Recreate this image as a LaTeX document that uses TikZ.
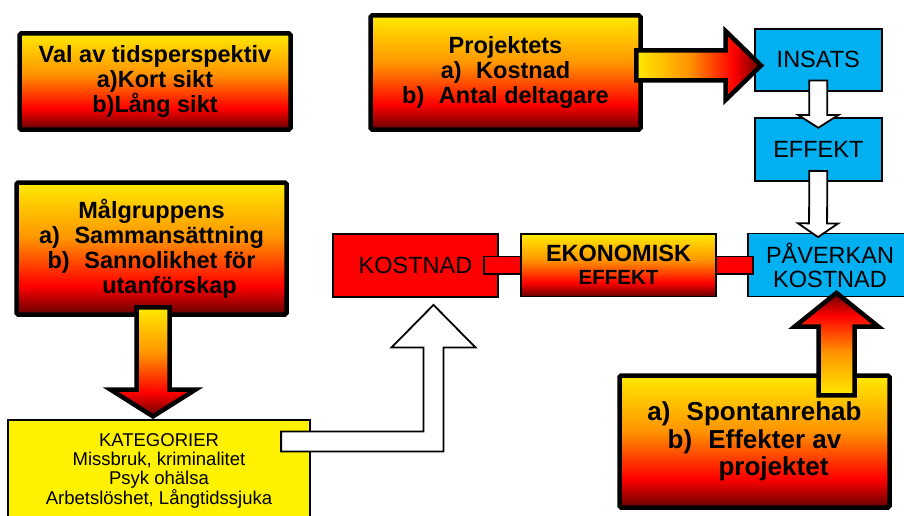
\documentclass[tikz,border=0pt]{standalone}
\usepackage{fontspec}
\setmainfont{Liberation Sans}
\usepackage{tikz}
\usetikzlibrary{calc}

\definecolor{fireyellow}{HTML}{FFEA00}
\definecolor{fireorange}{HTML}{FF9400}
\definecolor{firedark}{HTML}{660000}
\definecolor{skyblue}{HTML}{00B0F0}
\pgfdeclareverticalshading{fire}{100bp}{color(0bp)=(firedark); color(25bp)=(firedark);
  color(36bp)=(red); color(54bp)=(fireorange); color(75bp)=(fireyellow); color(100bp)=(fireyellow)}

% block arrow: style, from, to, half shaft, half head, head length
\newcommand{\blockarrow}[6]{%
  \coordinate (ba-base) at ($(#3)!#6!(#2)$);
  \path[#1] ($(#2)!#4!90:(#3)$) -- ($(ba-base)!#4!90:(#3)$)
    -- ($(ba-base)!#5!90:(#3)$) -- (#3)
    -- ($(ba-base)!#5!-90:(#3)$) -- ($(ba-base)!#4!-90:(#3)$)
    -- ($(#2)!#4!-90:(#3)$) -- cycle;
}
\newcommand{\gap}{\hspace{0.62em}}

\begin{document}
\begin{tikzpicture}[x=1pt, y=-1pt,
    firebox/.style={draw=black, line width=4.5pt, rounded corners=1.5pt, shade, shading=fire,
      inner sep=0pt, align=center, font=\fontsize{23.5}{25}\selectfont\bfseries},
    firethin/.style={firebox, line width=1.8pt, rounded corners=0pt},
    bluebox/.style={draw=black, line width=1.8pt, fill=skyblue, inner sep=0pt, align=center,
      font=\fontsize{23.5}{24}\selectfont},
    redbox/.style={bluebox, fill=red},
    yellowbox/.style={bluebox, fill=yellow, font=\fontsize{18.5}{18.7}\selectfont},
    connbar/.style={draw=black, line width=1.8pt, fill=red},
    firearrow/.style={draw=black, line width=4.5pt, line join=miter, shade, shading=fire},
    hollowarrow/.style={draw=black, line width=1.8pt, line join=miter, fill=white}]
  \useasboundingbox (0,0) rectangle (904,516);

  % Boxes
  \node[firebox, minimum width=271pt, minimum height=96pt] (tid) at (155,81.5)
    {Val av tidsperspektiv\\a)Kort sikt\\b)Lång sikt};
  \node[firebox, minimum width=270pt, minimum height=114pt] (proj) at (505.5,72.5)
    {Projektets\\a)\gap Kostnad\\b)\gap Antal deltagare};
  \node[firebox, minimum width=270pt, minimum height=132pt] (malg) at (151.5,248.5)
    {Målgruppens\\a)\gap Sammansättning\\b)\gap Sannolikhet för\\\hspace*{36pt}utanförskap};
  \node[yellowbox, minimum width=302pt, minimum height=102pt] (kat) at (159,471)
    {KATEGORIER\\Missbruk, kriminalitet\\Psyk ohälsa\\Arbetslöshet, Långtidssjuka};
  \node[bluebox, minimum width=126.7pt, minimum height=62pt] (insats) at (818.3,59.7) {INSATS};
  \node[bluebox, minimum width=126.7pt, minimum height=62.4pt] (effekt) at (818.3,149.5) {EFFEKT};
  \node[redbox, minimum width=165pt, minimum height=63pt] (kost) at (415.5,265.5) {KOSTNAD};
  \node[bluebox, minimum width=164pt, minimum height=63pt] (pav) at (830,265) {PÅVERKAN\\KOSTNAD};
  \node[firebox, font=\fontsize{26}{27.5}\selectfont\bfseries, minimum width=270pt,
    minimum height=132pt] (spont) at (754.5,441.5)
    {a)\gap Spontanrehab\\b)\gap Effekter av\\\hspace*{38pt}projektet};

  % Bar behind the middle box
  \draw[connbar] ($(kost.east)+(-15,-9)$) rectangle ($(pav.west)+(5.5,9)$);
  \node[firethin, font=\fontsize{23.5}{23}\selectfont\bfseries, minimum width=195pt,
    minimum height=62.5pt] (eko) at (618.5,265.25)
    {EKONOMISK\\{\fontsize{20.5}{23}\selectfont EFFEKT}};

  % Arrows
  \coordinate (proj-out) at ($(proj.east)+(-6.5,-7)$);
  \coordinate (insats-in) at ($(insats.west)+(7,5.8)$);
  \blockarrow{firearrow, shading angle=90}{proj-out}{insats-in}{15pt}{34.5pt}{35.5pt}

  \coordinate (insats-out) at ($(insats.south)+(0,-11)$);
  \coordinate (effekt-in) at ($(effekt.north)+(0,10.4)$);
  \blockarrow{hollowarrow}{insats-out}{effekt-in}{9pt}{20pt}{12.7pt}

  \coordinate (effekt-out) at ($(effekt.south)+(0,-10.7)$);
  \coordinate (pav-in) at ($(pav.north)+(-12,4.5)$);
  \blockarrow{hollowarrow}{effekt-out}{pav-in}{9pt}{20pt}{13.7pt}

  \coordinate (malg-out) at ($(malg.south)+(1.5,-9.5)$);
  \coordinate (kat-in) at ($(kat.north)+(-6,-2.7)$);
  \blockarrow{firearrow}{malg-out}{kat-in}{16.5pt}{42.5pt}{26.8pt}

  \coordinate (spont-out) at ($(spont.north)+(82,22)$);
  \coordinate (pav-up) at ($(pav.south)+(6.5,-4.5)$);
  \blockarrow{firearrow, shading angle=180}{spont-out}{pav-up}{18pt}{42pt}{33.8pt}

  \coordinate (kat-out) at ($(kat.east)+(-29.8,-29.6)$);
  \coordinate (kost-in) at ($(kost.south)+(18,7)$);
  \draw[hollowarrow] ($(kat-out)+(0,-10)$) -| ($(kost-in)+(-10,42.6)$) -- ++(-32,0)
    -- (kost-in) -- ++(42,42.6) -- ++(-32,0) |- ($(kat-out)+(0,10)$) -- cycle;
\end{tikzpicture}
\end{document}
